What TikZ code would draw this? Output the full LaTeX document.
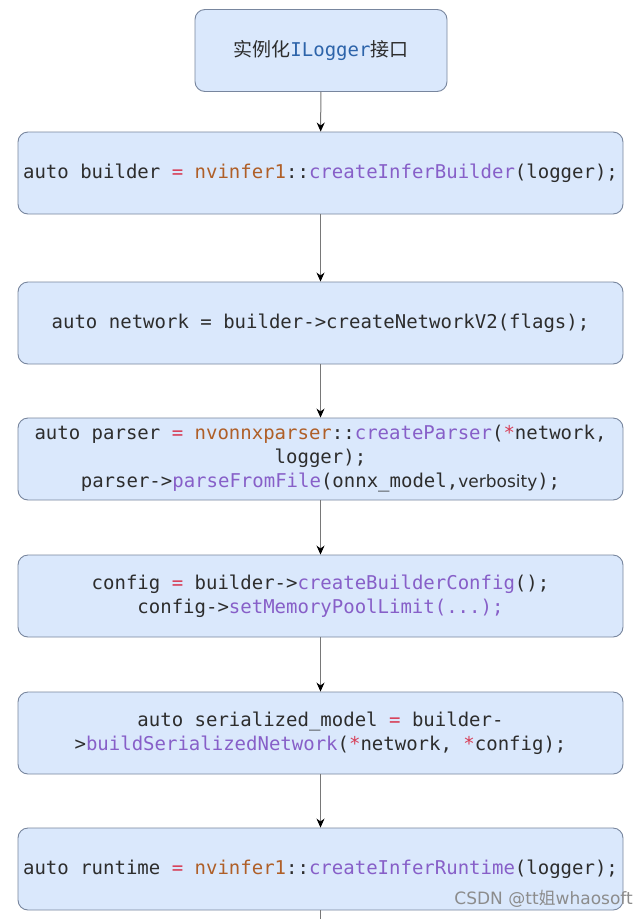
\documentclass[tikz,border=0pt]{standalone}
\usepackage{fontspec}
\setmonofont{DejaVu Sans Mono}
\setsansfont{DejaVu Sans}
\newfontfamily\cjk{Noto Sans CJK SC}
\usetikzlibrary{arrows.meta}
\definecolor{boxfill}{HTML}{DAE8FC}
\definecolor{boxdraw}{RGB}{120,134,158}
\definecolor{txt}{RGB}{45,45,45}
\definecolor{eqc}{RGB}{215,60,85}
\definecolor{nsc}{RGB}{175,95,40}
\definecolor{fnc}{RGB}{135,95,200}
\definecolor{ilc}{RGB}{45,100,170}
\definecolor{linec}{RGB}{120,120,120}
\newcommand{\EQ}{\textcolor{eqc}{=}}
\newcommand{\ST}{\textcolor{eqc}{*}}
\newcommand{\NS}[1]{\textcolor{nsc}{#1}}
\newcommand{\FN}[1]{\textcolor{fnc}{#1}}
\tikzset{
  stepbox/.style={draw=boxdraw, line width=0.9pt, fill=boxfill, rounded corners=10pt,
    minimum width=605pt, minimum height=82pt, align=center, text=txt,
    font=\ttfamily\fontsize{19}{24}\selectfont, inner sep=2pt},
  flow/.style={draw=linec, line width=1pt, -{Stealth[length=9pt,width=8pt,color=black]}}
}
\begin{document}
\begin{tikzpicture}[x=1pt,y=-1pt]
\useasboundingbox (0,0) rectangle (642,919);
\fill[white] (0,0) rectangle (642,919);
\node[stepbox, minimum width=252pt] (b1) at (321,50.5) {{\cjk 实例化}\textcolor{ilc}{ILogger}{\cjk 接口}};
\node[stepbox] (b2) at (320.5,173) {auto builder \EQ{} \NS{nvinfer1}::\FN{createInferBuilder}(logger);};
\node[stepbox] (b3) at (320.5,323) {auto network = builder->createNetworkV2(flags);};
\node[stepbox] (b4) at (320.5,459) {auto parser \EQ{} \NS{nvonnxparser}::\FN{createParser}(\ST{}network,\\logger);\\parser->\FN{parseFromFile}(onnx\_model,{\sffamily\fontsize{17}{24}\selectfont verbosity});};
\node[stepbox] (b5) at (320.5,596) {config \EQ{} builder->\FN{createBuilderConfig}();\\config->\FN{setMemoryPoolLimit(...);}};
\node[stepbox] (b6) at (320.5,733) {auto serialized\_model \EQ{} builder-\\>\FN{buildSerializedNetwork}(\ST{}network, \ST{}config);};
\node[stepbox] (b7) at (320.5,869) {auto runtime \EQ{} \NS{nvinfer1}::\FN{createInferRuntime}(logger);};
\coordinate (bend) at (320.5,919);
\draw[flow] (b1) -- (b2);
\draw[flow] (b2) -- (b3);
\draw[flow] (b3) -- (b4);
\draw[flow] (b4) -- (b5);
\draw[flow] (b5) -- (b6);
\draw[flow] (b6) -- (b7);
\draw[draw=linec, line width=1pt] (b7.south) -- (bend);
\node[anchor=east, text=black!45, font=\sffamily\fontsize{17}{20}\selectfont, inner sep=0pt] (wm) at (633,899) {CSDN @tt{\cjk 姐}whaosoft};
\end{tikzpicture}
\end{document}
